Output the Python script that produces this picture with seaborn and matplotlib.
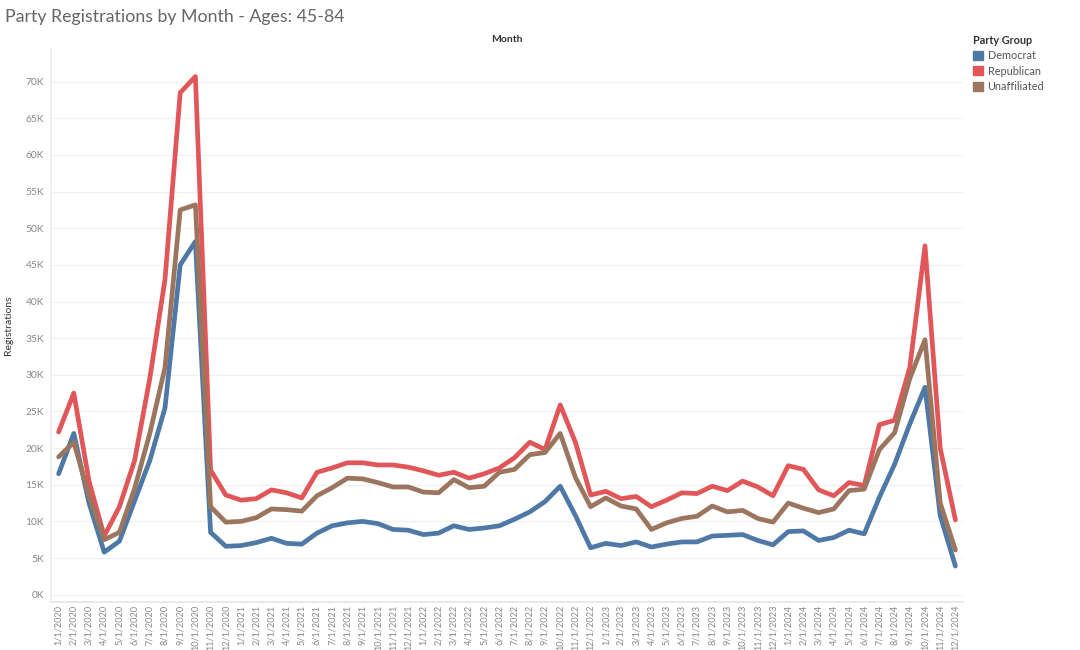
import pandas as pd
import numpy as np
import seaborn as sns
import matplotlib.pyplot as plt
from matplotlib.ticker import FuncFormatter, MultipleLocator
from matplotlib.patches import Patch

sns.set_theme(style='white')
plt.rcParams['font.family'] = ['Lato', 'DejaVu Sans']

# Data (in thousands)
months = [f'{m}/1/{y}' for y in range(2020, 2025) for m in range(1, 13)]

democrat = [16.5, 22.0, 12.5, 5.8, 7.3, 12.8, 18.3, 25.5, 45.0, 48.2, 8.5, 6.6,
            6.7, 7.1, 7.7, 7.0, 6.9, 8.4, 9.4, 9.8, 10.0, 9.7, 8.9, 8.8,
            8.2, 8.4, 9.4, 8.9, 9.1, 9.4, 10.3, 11.3, 12.7, 14.8, 10.8, 6.4,
            7.0, 6.7, 7.2, 6.5, 6.9, 7.2, 7.2, 8.0, 8.1, 8.2, 7.4, 6.8,
            8.6, 8.7, 7.4, 7.8, 8.8, 8.3, 13.3, 17.8, 23.3, 28.3, 10.8, 3.9]

republican = [22.2, 27.5, 15.5, 8.0, 12.0, 18.3, 29.5, 43.0, 68.5, 70.7, 17.0, 13.6,
              12.9, 13.1, 14.3, 13.9, 13.2, 16.7, 17.3, 18.0, 18.0, 17.7, 17.7, 17.4,
              16.9, 16.3, 16.7, 15.9, 16.5, 17.3, 18.7, 20.8, 19.8, 25.9, 20.8, 13.6,
              14.1, 13.1, 13.4, 12.0, 12.9, 13.9, 13.8, 14.8, 14.2, 15.5, 14.7, 13.5,
              17.6, 17.1, 14.3, 13.5, 15.3, 14.9, 23.2, 23.8, 31.0, 47.6, 20.0, 10.2]

unaffiliated = [18.8, 20.8, 13.5, 7.5, 8.5, 14.5, 22.0, 31.0, 52.5, 53.2, 12.0, 9.9,
                10.0, 10.5, 11.7, 11.6, 11.4, 13.5, 14.6, 15.9, 15.8, 15.3, 14.7, 14.7,
                14.0, 13.9, 15.7, 14.6, 14.8, 16.7, 17.1, 19.1, 19.4, 22.0, 16.0, 12.0,
                13.2, 12.1, 11.7, 8.9, 9.8, 10.4, 10.7, 12.1, 11.3, 11.5, 10.4, 9.9,
                12.5, 11.8, 11.2, 11.7, 14.2, 14.4, 19.8, 22.1, 29.5, 34.8, 12.5, 6.1]

parties = ['Democrat', 'Republican', 'Unaffiliated']
colors = ['#4e79a7', '#e15759', '#9c755f']

rows = []
for party, vals in zip(parties, [democrat, republican, unaffiliated]):
    for i, v in enumerate(vals):
        rows.append({'Month': months[i], 'idx': i, 'Party Group': party,
                     'Registrations': v * 1000})
df = pd.DataFrame(rows)

fig = plt.figure(figsize=(10.8, 6.5), dpi=100)
ax = fig.add_axes([51 / 1080, 1 - 602 / 650, (963 - 51) / 1080, (602 - 48) / 650])

sns.lineplot(data=df, x='idx', y='Registrations', hue='Party Group',
             palette=dict(zip(parties, colors)), linewidth=3.4, ax=ax,
             legend=False, solid_capstyle='round', solid_joinstyle='round')

ax.set_xlim(-0.5, len(months) - 0.5)
ax.set_ylim(-1000, 74600)
ax.yaxis.set_major_locator(MultipleLocator(5000))
ax.yaxis.set_major_formatter(FuncFormatter(lambda v, p: f'{int(round(v / 1000))}K'))
ax.set_xticks(range(len(months)))
ax.set_xticklabels(months, rotation=90, fontsize=6.6, color='#888888')
ax.set_xticks(np.arange(-0.5, len(months), 1), minor=True)
ax.tick_params(axis='x', which='major', length=0, pad=2)
ax.tick_params(axis='x', which='minor', length=5, color='#e6e6e6', width=0.8)
ax.tick_params(axis='y', length=0, labelsize=7.4, labelcolor='#888888', pad=5)

ax.grid(axis='y', color='#f0f0f0', linewidth=0.9)
ax.grid(axis='x', visible=False)
for s in ['top', 'right']:
    ax.spines[s].set_visible(False)
ax.spines['left'].set_color('#eeeeee')
ax.spines['bottom'].set_color('#e6e6e6')

ax.set_xlabel('')
ax.set_ylabel('Registrations', fontsize=7.5, color='#333333')
ax.yaxis.set_label_coords(-(51 - 13) / 912, 0.5)
ax.text(0.5, 1.008, 'Month', transform=ax.transAxes, ha='center', va='bottom',
        fontsize=7.5, color='#333333', fontweight='bold')

fig.text(5 / 1080, 1 - 17 / 650, 'Party Registrations by Month - Ages: 45-84',
         fontsize=12.8, color='#666666', va='center', ha='left')

handles = [Patch(facecolor=c, edgecolor=c, label=p) for p, c in zip(parties, colors)]
leg = fig.legend(handles=handles, title='Party Group', loc='upper left',
                 bbox_to_anchor=(973 / 1080, 1 - 35 / 650), frameon=False,
                 fontsize=7.8, title_fontsize=7.8, handlelength=0.9,
                 handleheight=0.9, handletextpad=0.45, labelspacing=0.4,
                 borderaxespad=0, borderpad=0)
leg._legend_box.align = 'left'
leg.get_title().set_fontweight('bold')
leg.get_title().set_color('#333333')
for t in leg.get_texts():
    t.set_color('#555555')

fig.savefig('out.png', dpi=100)
